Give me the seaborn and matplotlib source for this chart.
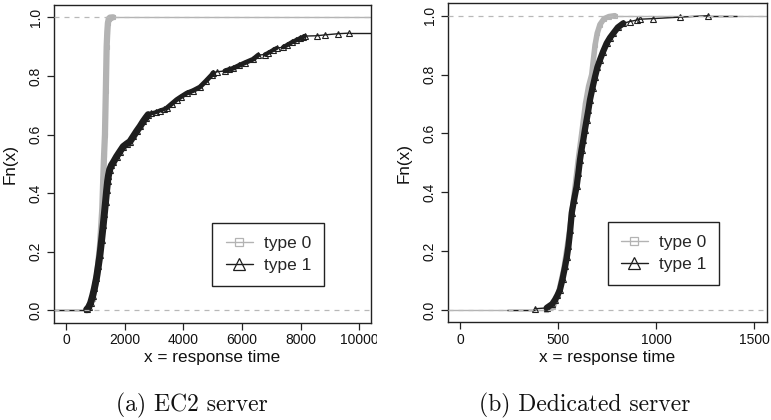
import numpy as np
import matplotlib
matplotlib.use("Agg")
import matplotlib.pyplot as plt
import seaborn as sns
from matplotlib.lines import Line2D
from matplotlib.transforms import Bbox, TransformedBbox

# ---------------- data ----------------
# (a) EC2 server
ec2_type0_x = [700, 900, 1050, 1150, 1230, 1262, 1290, 1320, 1350, 1378, 1400, 1420, 1450, 1490, 1600]
ec2_type0_y = [0.0, 0.04, 0.12, 0.22, 0.35, 0.45, 0.53, 0.60, 0.75, 0.90, 0.95, 0.98, 0.995, 0.999, 1.0]

ec2_type1_x = [695, 760, 830, 900, 960, 1030, 1092, 1150, 1206, 1260, 1300, 1340, 1378, 1410, 1440,
               1480, 1540, 1603, 1718, 1830, 1944, 2060, 2173, 2290, 2400, 2520, 2627, 2720, 2797,
               2900, 3050, 3196, 3320, 3424, 3600, 3765, 3900, 4106, 4330, 4560, 4760, 4959, 5014,
               5130, 5413, 5560, 5696, 5900, 6100, 6378, 6548, 6775, 6900, 7050, 7176, 7401, 7550,
               7700, 7850, 7970, 8083, 8141, 8540, 8824, 9277, 9652]
ec2_type1_y = [0.003, 0.01, 0.025, 0.05, 0.075, 0.11, 0.15, 0.19, 0.24, 0.29, 0.33, 0.37, 0.41, 0.44,
               0.46, 0.48, 0.495, 0.505, 0.525, 0.542, 0.559, 0.568, 0.576, 0.594, 0.611, 0.628,
               0.645, 0.658, 0.668, 0.672, 0.676, 0.682, 0.686, 0.690, 0.705, 0.719, 0.728, 0.741,
               0.75, 0.762, 0.782, 0.803, 0.811, 0.814, 0.817, 0.822, 0.826, 0.836, 0.845, 0.857,
               0.871, 0.873, 0.879, 0.888, 0.895, 0.898, 0.906, 0.915, 0.922, 0.928, 0.933, 0.936,
               0.937, 0.94, 0.944, 0.946]

# (b) Dedicated server
ded_type0_x = [440, 475, 500, 530, 555, 580, 605, 621, 640, 656, 672, 689, 700, 714, 735, 760, 790]
ded_type0_y = [0.0, 0.01, 0.05, 0.14, 0.25, 0.38, 0.52, 0.60, 0.70, 0.76, 0.80, 0.90, 0.94, 0.97,
               0.99, 0.997, 1.0]

ded_type1_x = [383, 442, 470, 485, 497, 510, 523, 536, 545, 553, 562, 570, 582, 595, 604, 612, 620,
               629, 637, 646, 655, 663, 676, 689, 701, 714, 730, 748, 765, 782, 805, 833, 865, 901,
               918, 986, 1122, 1267]
ded_type1_y = [0.004, 0.007, 0.02, 0.035, 0.05, 0.069, 0.105, 0.148, 0.18, 0.216, 0.27, 0.33, 0.375,
               0.42, 0.465, 0.51, 0.545, 0.578, 0.612, 0.646, 0.68, 0.714, 0.755, 0.793, 0.825,
               0.85, 0.878, 0.906, 0.925, 0.94, 0.96, 0.974, 0.98, 0.985, 0.988, 0.99, 0.995, 1.0]

legend_labels = ["type 0", "type 1"]
x_ticks_ec2 = [0, 2000, 4000, 6000, 8000, 10000]
x_ticks_ded = [0, 500, 1000, 1500]
y_ticks = [0.0, 0.2, 0.4, 0.6, 0.8, 1.0]
captions = ["(a) EC2 server", "(b) Dedicated server"]

# ---------------- style ----------------
sns.set_theme(style="white")
plt.rcParams['font.family'] = ['Liberation Sans', 'DejaVu Sans']
plt.rcParams['axes.edgecolor'] = '#222222'
plt.rcParams['axes.linewidth'] = 1.0

GRAY = '#b3b3b3'
DARK = '#1e1e1e'
DASH = '#b8b8b8'

fig = plt.figure(figsize=(7.71, 4.2), dpi=100)
axL = fig.add_axes([0.0700, 0.2317, 0.4112, 0.7564])
axR = fig.add_axes([0.5807, 0.2326, 0.4145, 0.7595])


def draw_ecdf(ax, xs, ys, color, marker, ms, bands, left, right, z):
    ax.hlines(0, left, xs[0], color=color, lw=1.0, zorder=z)
    ax.hlines(ys[-1], xs[-1], right, color=color, lw=1.0, zorder=z)
    for (i0, i1, blw) in bands:
        sns.lineplot(x=xs[i0:i1], y=ys[i0:i1], ax=ax, color=color, lw=blw,
                     sort=False, estimator=None, zorder=z, solid_capstyle='round')
    sns.lineplot(x=xs, y=ys, ax=ax, color=color, lw=1.0, marker=marker, markersize=ms,
                 markerfacecolor='none', markeredgecolor=color, markeredgewidth=0.8,
                 sort=False, estimator=None, zorder=z + 0.5)


def style_axes(ax, xlim, xticks):
    ax.set_xlim(*xlim)
    ax.set_ylim(-0.042, 1.042)
    ax.axhline(0, color=DASH, lw=0.9, ls=(0, (4, 4)), zorder=10)
    ax.axhline(1, color=DASH, lw=0.9, ls=(0, (4, 4)), zorder=10)
    ax.set_xticks(xticks)
    ax.set_xticklabels([str(t) for t in xticks])
    ax.set_yticks(y_ticks)
    ax.set_yticklabels([f"{t:.1f}" for t in y_ticks], rotation=90, va='center')
    ax.tick_params(axis='both', which='major', direction='out', length=5, width=0.9,
                   color='#222222', labelsize=10, labelcolor='#111111', pad=2.5,
                   bottom=True, left=True)
    ax.tick_params(axis='y', pad=3)
    ax.set_xlabel("x = response time", fontsize=12.3, labelpad=2, color='#111111')
    ax.set_ylabel("Fn(x)", fontsize=12.3, labelpad=8, color='#111111')
    for s in ax.spines.values():
        s.set_visible(True)
        s.set_color('#222222')
        s.set_linewidth(1.0)
    handles = [Line2D([], [], color=GRAY, lw=1.0, marker='s', markersize=5.5,
                      markerfacecolor='none', markeredgecolor=GRAY, markeredgewidth=0.9),
               Line2D([], [], color=DARK, lw=1.0, marker='^', markersize=8.5,
                      markerfacecolor='none', markeredgecolor=DARK, markeredgewidth=0.9)]
    leg = ax.legend(handles, legend_labels, loc='upper left', bbox_to_anchor=(0.50, 0.315),
                    fontsize=12.5, frameon=True, fancybox=False, framealpha=1,
                    edgecolor='#222222', handlelength=1.6, handletextpad=0.6,
                    labelspacing=0.42, borderpad=0.75, borderaxespad=0)
    leg.get_frame().set_linewidth(1.0)


# (a) EC2
xlimL = (-420, 10400)
draw_ecdf(axL, ec2_type0_x, ec2_type0_y, GRAY, 's', 3.5, [(0, len(ec2_type0_x), 4.5)],
          xlimL[0], xlimL[1], 2)
ext = 0.164 * (ec2_type1_x[-1] - ec2_type1_x[0])
draw_ecdf(axL, ec2_type1_x, ec2_type1_y, DARK, '^', 4.5,
          [(0, 29, 5.0), (28, 33, 3.0), (33, 43, 3.5), (44, 51, 3.5), (51, 55, 3.0), (55, 62, 3.2)],
          ec2_type1_x[0] - ext, ec2_type1_x[-1] + ext, 3)
style_axes(axL, xlimL, x_ticks_ec2)

# (b) Dedicated
xlimR = (-63, 1568)
draw_ecdf(axR, ded_type0_x, ded_type0_y, GRAY, 's', 3.5, [(0, len(ded_type0_x), 4.0)],
          xlimR[0], xlimR[1], 2)
ext = 0.164 * (ded_type1_x[-1] - ded_type1_x[0])
draw_ecdf(axR, ded_type1_x, ded_type1_y, DARK, '^', 4.5, [(1, 32, 4.5)],
          ded_type1_x[0] - ext, ded_type1_x[-1] + ext, 3)
style_axes(axR, xlimR, x_ticks_ded)

# clip the last EC2 tick label like in the reference
clip = TransformedBbox(Bbox.from_extents(0, 0, 377 / 771, 1), fig.transFigure)
for lab in axL.get_xticklabels():
    lab.set_clip_box(clip)
    lab.set_clip_on(True)

fig.text(192 / 771, 1 - 405 / 420, captions[0], fontsize=17, family='cmr10',
         ha='center', va='center', color='#111111')
fig.text(585 / 771, 1 - 405 / 420, captions[1], fontsize=17, family='cmr10',
         ha='center', va='center', color='#111111')

fig.savefig("out.png", dpi=100)
